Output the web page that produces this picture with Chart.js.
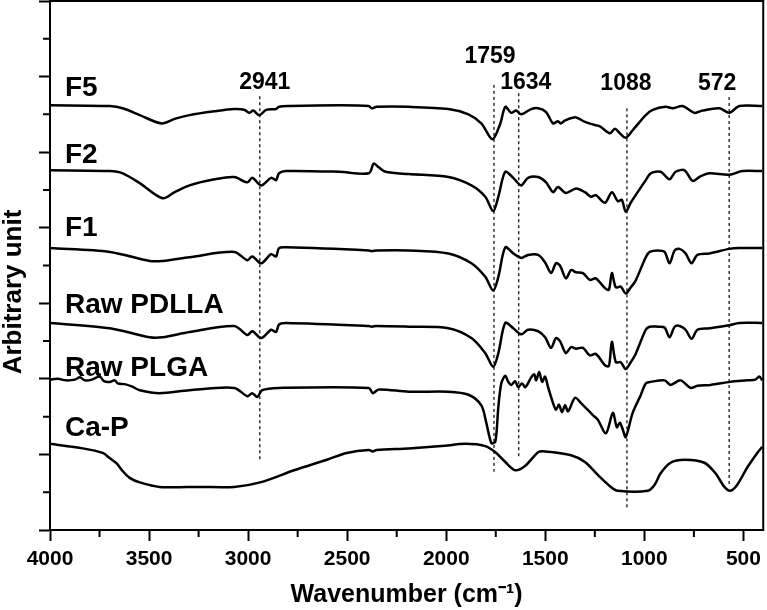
<!DOCTYPE html>
<html lang="en">
<head>
  <meta charset="utf-8">
  <title>FTIR spectra</title>
  <script src="https://cdn.jsdelivr.net/npm/chart.js@4.4.1/dist/chart.umd.min.js"></script>
  <style>
    body { margin: 0; background: #fff; }
    #wrap { width: 767px; height: 610px; }
  </style>
</head>
<body>
<div id="wrap"><canvas id="myChart" width="767" height="610"></canvas></div>

<script>
/* Spectra: wavenumber (cm-1) and stacked intensity (arbitrary unit) */
var f5Wn = [4000, 3698, 3633, 3547, 3437, 3371, 3296, 3170, 3070, 3020, 2994, 2974, 2944, 2909, 2859, 2844, 2793, 2542, 2391, 2376,
  2351, 2190, 1989, 1888, 1823, 1767, 1727, 1702, 1672, 1647, 1622, 1571, 1536, 1496, 1461, 1436, 1421, 1400, 1345, 1300,
  1250, 1224, 1174, 1149, 1124, 1094, 1059, 993, 958, 893, 857, 807, 747, 707, 621, 571, 521, 405];
var f5Val = [5.62, 5.61, 5.58, 5.49, 5.38, 5.44, 5.49, 5.54, 5.57, 5.56, 5.52, 5.55, 5.49, 5.56, 5.57, 5.60, 5.61, 5.62, 5.61, 5.58,
  5.60, 5.60, 5.57, 5.50, 5.38, 5.17, 5.38, 5.60, 5.52, 5.55, 5.50, 5.57, 5.58, 5.53, 5.38, 5.41, 5.38, 5.42, 5.46, 5.40,
  5.36, 5.34, 5.25, 5.31, 5.25, 5.19, 5.29, 5.49, 5.56, 5.60, 5.58, 5.61, 5.52, 5.55, 5.58, 5.52, 5.61, 5.61];

var f2Wn = [4000, 3698, 3633, 3547, 3432, 3371, 3296, 3170, 3070, 3004, 2979, 2934, 2884, 2859, 2844, 2808, 2542, 2391, 2366, 2341,
  2306, 2190, 1989, 1873, 1803, 1763, 1737, 1702, 1662, 1622, 1587, 1536, 1496, 1461, 1436, 1396, 1345, 1300, 1270, 1245,
  1199, 1164, 1134, 1114, 1094, 1069, 993, 968, 918, 873, 842, 797, 757, 717, 671, 571, 505, 405];
var f2Val = [4.76, 4.75, 4.72, 4.59, 4.39, 4.47, 4.56, 4.64, 4.67, 4.60, 4.66, 4.56, 4.66, 4.63, 4.72, 4.75, 4.74, 4.72, 4.85, 4.80,
  4.74, 4.71, 4.67, 4.56, 4.41, 4.22, 4.41, 4.74, 4.66, 4.56, 4.66, 4.67, 4.60, 4.47, 4.54, 4.46, 4.52, 4.47, 4.41, 4.43,
  4.33, 4.47, 4.35, 4.37, 4.21, 4.33, 4.63, 4.72, 4.74, 4.64, 4.74, 4.76, 4.62, 4.68, 4.72, 4.70, 4.75, 4.75];

var f1Wn = [4000, 3698, 3497, 3432, 3296, 3070, 3004, 2979, 2934, 2884, 2859, 2844, 2808, 2391, 2376, 2351, 2190, 1989, 1873, 1803,
  1763, 1737, 1702, 1662, 1622, 1587, 1536, 1501, 1471, 1446, 1426, 1396, 1370, 1345, 1310, 1275, 1245, 1199, 1179, 1164,
  1144, 1119, 1094, 1069, 1044, 993, 973, 933, 898, 873, 847, 822, 792, 762, 732, 671, 571, 521, 405];
var f1Val = [3.73, 3.68, 3.56, 3.56, 3.61, 3.68, 3.57, 3.62, 3.53, 3.65, 3.62, 3.73, 3.74, 3.70, 3.69, 3.70, 3.70, 3.66, 3.53, 3.35,
  3.17, 3.35, 3.74, 3.66, 3.60, 3.64, 3.64, 3.54, 3.40, 3.53, 3.50, 3.33, 3.44, 3.41, 3.40, 3.31, 3.33, 3.20, 3.18, 3.40,
  3.21, 3.22, 3.13, 3.21, 3.30, 3.61, 3.68, 3.70, 3.68, 3.53, 3.70, 3.72, 3.66, 3.53, 3.64, 3.66, 3.72, 3.73, 3.73];

var pdllaWn = [4000, 3698, 3497, 3432, 3296, 3070, 3004, 2979, 2934, 2884, 2859, 2844, 2808, 2391, 2376, 2351, 2190, 1989, 1873, 1803,
  1763, 1737, 1702, 1662, 1622, 1587, 1536, 1501, 1471, 1446, 1426, 1396, 1370, 1345, 1310, 1275, 1245, 1199, 1179, 1164,
  1144, 1119, 1094, 1069, 1044, 993, 973, 933, 898, 873, 847, 822, 792, 762, 732, 671, 571, 521, 405];
var pdllaVal = [2.74, 2.67, 2.55, 2.55, 2.62, 2.70, 2.58, 2.63, 2.54, 2.65, 2.62, 2.72, 2.74, 2.70, 2.69, 2.70, 2.69, 2.67, 2.54, 2.34,
  2.16, 2.34, 2.74, 2.67, 2.59, 2.65, 2.63, 2.55, 2.41, 2.54, 2.50, 2.34, 2.42, 2.40, 2.41, 2.31, 2.33, 2.18, 2.17, 2.49,
  2.22, 2.22, 2.13, 2.22, 2.33, 2.65, 2.69, 2.69, 2.68, 2.55, 2.69, 2.70, 2.65, 2.53, 2.65, 2.67, 2.71, 2.74, 2.74];

var plgaWn = [4000, 3960, 3920, 3874, 3849, 3824, 3789, 3749, 3728, 3698, 3673, 3658, 3623, 3588, 3547, 3447, 3296, 3070, 3004, 2979,
  2954, 2929, 2844, 2391, 2371, 2341, 2190, 1989, 1888, 1823, 1798, 1772, 1752, 1737, 1722, 1702, 1687, 1672, 1652, 1637,
  1617, 1601, 1571, 1556, 1546, 1531, 1516, 1501, 1486, 1461, 1446, 1431, 1416, 1400, 1385, 1350, 1320, 1260, 1235, 1194,
  1159, 1139, 1124, 1109, 1094, 1059, 1019, 993, 968, 898, 868, 817, 767, 732, 666, 566, 480, 440, 420, 405];
var plgaVal = [1.99, 2.00, 1.98, 1.99, 2.02, 1.98, 1.99, 2.03, 1.97, 1.96, 1.98, 1.94, 1.93, 1.90, 1.85, 1.81, 1.85, 1.88, 1.77, 1.81,
  1.76, 1.85, 1.88, 1.88, 1.81, 1.86, 1.83, 1.83, 1.79, 1.65, 1.42, 1.15, 1.17, 1.63, 1.94, 2.04, 1.96, 1.92, 1.97, 1.89,
  1.94, 1.89, 2.02, 2.06, 1.98, 2.09, 1.96, 2.03, 1.89, 1.68, 1.59, 1.66, 1.56, 1.65, 1.57, 1.75, 1.68, 1.52, 1.46, 1.28,
  1.55, 1.36, 1.42, 1.33, 1.23, 1.55, 1.78, 1.94, 1.96, 1.98, 1.92, 1.98, 1.88, 1.91, 1.92, 1.96, 1.98, 1.99, 2.03, 1.98];

var capWn = [4000, 3834, 3734, 3698, 3663, 3633, 3598, 3547, 3447, 3246, 3070, 2939, 2768, 2602, 2502, 2391, 2371, 2351, 2190, 2024,
  1903, 1803, 1752, 1702, 1652, 1601, 1536, 1501, 1370, 1300, 1235, 1169, 1134, 983, 948, 918, 868, 797, 697, 641,
  596, 566, 531, 480, 430, 405];
var capVal = [1.14, 1.08, 1.02, 0.95, 0.88, 0.78, 0.69, 0.63, 0.57, 0.57, 0.57, 0.63, 0.79, 0.93, 1.02, 1.06, 1.04, 1.06, 1.08, 1.11,
  1.14, 1.11, 1.03, 0.90, 0.79, 0.85, 1.03, 1.04, 0.99, 0.90, 0.73, 0.57, 0.52, 0.52, 0.60, 0.75, 0.89, 0.93, 0.89, 0.75,
  0.57, 0.52, 0.60, 0.83, 1.02, 1.10];

var seriesNames = ['F5', 'F2', 'F1', 'Raw PDLLA', 'Raw PLGA', 'Ca-P'];

/* marked bands and how far their dashed guides run */
var peaks = [2941, 1759, 1634, 1088, 572];
var peakTop = [5.74, 5.89, 5.78, 5.58, 5.73];
var peakBottom = [0.90, 0.77, 0.95, 0.30, 0.57];

var xMajor = [4000, 3500, 3000, 2500, 2000, 1500, 1000, 500];
var xMinor = [3750, 3250, 2750, 2250, 1750, 1250, 750];
var yMinor = [0.5, 1.5, 2.5, 3.5, 4.5, 5.5, 6.5];

var FONT = '"Liberation Sans", Arial, sans-serif';

function toPoints(wn, val) {
  return wn.map(function (w, i) { return { x: w, y: val[i] }; });
}

var spectra = [
  [f5Wn, f5Val], [f2Wn, f2Val], [f1Wn, f1Val],
  [pdllaWn, pdllaVal], [plgaWn, plgaVal], [capWn, capVal]
];

var datasets = spectra.map(function (s, i) {
  return {
    label: seriesNames[i],
    data: toPoints(s[0], s[1]),
    borderColor: '#000',
    borderWidth: 2.5,
    pointRadius: 0,
    tension: 0.3
  };
});

peaks.forEach(function (p, i) {
  datasets.push({
    label: 'band ' + p,
    data: [{ x: p, y: peakTop[i] }, { x: p, y: peakBottom[i] }],
    borderColor: '#000',
    borderWidth: 1.2,
    borderDash: [3, 3],
    pointRadius: 0,
    tension: 0
  });
});

/* frame, minor ticks and the text inside the plot */
var extras = {
  id: 'extras',
  afterDraw: function (chart) {
    var ctx = chart.ctx, area = chart.chartArea;
    var xs = chart.scales.x, ys = chart.scales.y;
    ctx.save();
    ctx.strokeStyle = '#000';
    ctx.lineWidth = 2;
    ctx.strokeRect(area.left, area.top, area.right - area.left, area.bottom - area.top);

    ctx.beginPath();
    xMinor.forEach(function (v) {
      var px = xs.getPixelForValue(v);
      ctx.moveTo(px, area.bottom);
      ctx.lineTo(px, area.bottom + 7);
    });
    yMinor.forEach(function (v) {
      var py = ys.getPixelForValue(v);
      ctx.moveTo(area.left, py);
      ctx.lineTo(area.left - 7, py);
    });
    ctx.stroke();

    ctx.fillStyle = '#000';
    ctx.textBaseline = 'alphabetic';

    // series names, sitting above the start of each trace
    var lift = [19, 17, 22, 20, 14, 18];
    ctx.font = 'bold 28px ' + FONT;
    ctx.textAlign = 'left';
    spectra.forEach(function (s, i) {
      var py = ys.getPixelForValue(s[1][0]) - lift[i];
      ctx.fillText(seriesNames[i], area.left + 15, py + 0.358 * 28);
    });

    // band numbers
    var dx = [5, -4, 7, -1, -12];
    var ly = [81, 55, 81, 82, 82];
    ctx.font = 'bold 23px ' + FONT;
    ctx.textAlign = 'center';
    peaks.forEach(function (p, i) {
      ctx.fillText(String(p), xs.getPixelForValue(p) + dx[i], ly[i] + 0.358 * 23);
    });

    // y axis title
    ctx.translate(12, 292);
    ctx.rotate(-Math.PI / 2);
    ctx.font = 'bold 26px ' + FONT;
    ctx.fillText('Arbitrary unit', 0, 0.358 * 26);
    ctx.restore();
  }
};

var ctx = document.getElementById('myChart').getContext('2d');
var chart = new Chart(ctx, {
  type: 'line',
  data: { datasets: datasets },
  options: {
    responsive: false,
    animation: false,
    layout: { padding: { top: 1, right: 2, left: 0, bottom: 0 } },
    plugins: {
      legend: { display: false },
      tooltip: { enabled: false }
    },
    scales: {
      x: {
        type: 'linear',
        min: 400,
        max: 4000,
        reverse: true,
        afterBuildTicks: function (scale) {
          scale.ticks = xMajor.map(function (v) { return { value: v }; });
        },
        afterFit: function (scale) { scale.height = 80; },
        grid: {
          drawOnChartArea: false,
          tickLength: 11,
          tickWidth: 2,
          tickColor: '#000'
        },
        border: { display: true, color: '#000', width: 2 },
        ticks: {
          color: '#000',
          padding: 6,
          maxRotation: 0,
          autoSkip: false,
          font: { family: FONT, size: 21, weight: 'bold' },
          callback: function (value) { return String(value); }
        },
        title: {
          display: true,
          text: 'Wavenumber (cm\u207B\u00B9)',
          color: '#000',
          padding: { top: 0, bottom: 0 },
          font: { family: FONT, size: 25, weight: 'bold' }
        }
      },
      y: {
        min: 0,
        max: 7,
        afterFit: function (scale) { scale.width = 50; },
        grid: {
          drawOnChartArea: false,
          tickLength: 11,
          tickWidth: 2,
          tickColor: '#000'
        },
        border: { display: true, color: '#000', width: 2 },
        ticks: { display: false, stepSize: 1 }
      }
    }
  },
  plugins: [extras]
});
</script>
</body>
</html>
